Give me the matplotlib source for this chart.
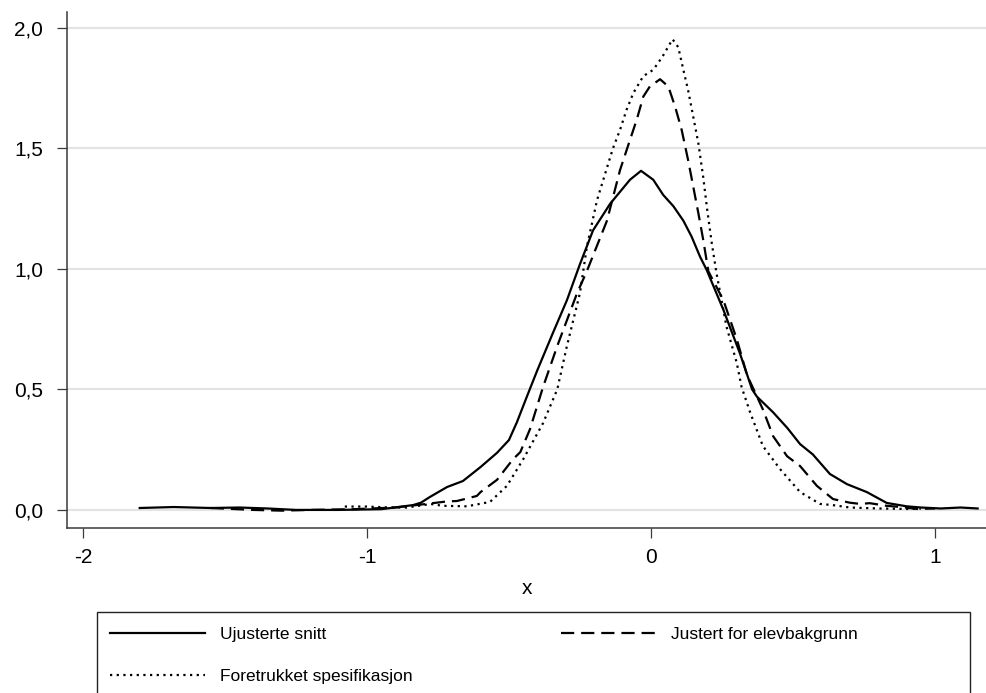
import numpy as np
import matplotlib
matplotlib.use("Agg")
import matplotlib.pyplot as plt
from matplotlib.patches import Rectangle
from matplotlib.ticker import FuncFormatter

plt.rcParams["font.family"] = ["Liberation Sans", "DejaVu Sans"]
plt.rcParams["lines.scale_dashes"] = False

# kernel density curves
x_ujust = [-1.80, -1.68, -1.55, -1.45, -1.35, -1.25, -1.10, -0.95, -0.89, -0.838, -0.81, -0.778,
           -0.718, -0.662, -0.60, -0.542, -0.50, -0.472, -0.437, -0.40, -0.345, -0.296, -0.25,
           -0.204, -0.144, -0.109, -0.074, -0.035, 0.008, 0.043, 0.079, 0.114, 0.143, 0.173,
           0.196, 0.255, 0.313, 0.356, 0.373, 0.43, 0.48, 0.525, 0.57, 0.63, 0.69, 0.76, 0.83,
           0.90, 0.95, 1.02, 1.09, 1.15]
y_ujust = [0.008, 0.012, 0.008, 0.010, 0.006, 0.0, 0.0, 0.003, 0.012, 0.02, 0.03, 0.054,
           0.095, 0.12, 0.178, 0.237, 0.29, 0.364, 0.47, 0.58, 0.735, 0.87, 1.02,
           1.16, 1.27, 1.32, 1.37, 1.407, 1.37, 1.307, 1.26, 1.20, 1.134, 1.05,
           0.996, 0.83, 0.65, 0.50, 0.47, 0.405, 0.34, 0.273, 0.23, 0.149, 0.107, 0.074, 0.029,
           0.015, 0.010, 0.006, 0.010, 0.006]

x_justert = [-1.55, -1.40, -1.30, -1.20, -1.05, -0.90, -0.79, -0.72, -0.683, -0.613, -0.60,
             -0.542, -0.486, -0.46, -0.426, -0.38, -0.33, -0.26, -0.226, -0.155, -0.109,
             -0.074, -0.05, -0.027, -0.004, 0.032, 0.061, 0.085, 0.108, 0.131, 0.149, 0.167,
             0.184, 0.202, 0.255, 0.303, 0.338, 0.394, 0.43, 0.479, 0.525, 0.584, 0.641, 0.70,
             0.736, 0.77, 0.83, 0.88, 0.937, 1.00]
y_justert = [0.008, 0.0, -0.003, 0.0, 0.003, 0.010, 0.025, 0.035, 0.037, 0.058, 0.074,
             0.125, 0.21, 0.24, 0.335, 0.51, 0.68, 0.90, 0.99, 1.20, 1.41,
             1.535, 1.62, 1.715, 1.757, 1.787, 1.757, 1.673, 1.577, 1.45, 1.34, 1.23,
             1.12, 0.99, 0.87, 0.705, 0.56, 0.417, 0.306, 0.223, 0.182, 0.10, 0.045, 0.030,
             0.025, 0.028, 0.017, 0.012, 0.004, 0.006]

x_foretr = [-1.078, -1.00, -0.92, -0.86, -0.80, -0.778, -0.732, -0.648, -0.567, -0.507, -0.45,
            -0.38, -0.33, -0.296, -0.25, -0.226, -0.19, -0.134, -0.109, -0.086, -0.062, -0.027,
            0.008, 0.04, 0.076, 0.096, 0.114, 0.131, 0.149, 0.167, 0.184, 0.198, 0.214, 0.231,
            0.266, 0.302, 0.319, 0.349, 0.394, 0.454, 0.525, 0.595, 0.64, 0.70, 0.80, 0.90, 0.95]
y_foretr = [0.014, 0.014, 0.010, 0.010, 0.020, 0.025, 0.017, 0.015, 0.033, 0.10, 0.21,
            0.36, 0.50, 0.68, 0.90, 1.09, 1.285, 1.50, 1.577, 1.66, 1.73, 1.80,
            1.826, 1.88, 1.953, 1.92, 1.826, 1.74, 1.63, 1.52, 1.38, 1.245, 1.107, 0.98,
            0.76, 0.61, 0.51, 0.405, 0.265, 0.17, 0.074, 0.025, 0.02, 0.010, 0.006, 0.004, 0.005]

labels = ["Ujusterte snitt", "Justert for elevbakgrunn", "Foretrukket spesifikasjon"]
x_ticks = [-2, -1, 0, 1]
y_ticks = [0, 0.5, 1.0, 1.5, 2.0]

W, H = 987, 693
fig = plt.figure(figsize=(W/100, H/100), dpi=100)
ax = fig.add_axes([67/W, 1-528/H, (W-67)/W, (528-12)/H])

lw = 1.6
l1, = ax.plot(x_ujust, y_ujust, color="black", lw=lw, ls="-")
l2, = ax.plot(x_justert, y_justert, color="black", lw=lw, ls=(0, (9.5, 5.0)))
l3, = ax.plot(x_foretr, y_foretr, color="black", lw=lw, ls=(0, (1.6, 3.2)))

ax.set_xlim(-2.056, 1.183)
ax.set_ylim(-0.075, 2.066)
ax.set_xticks(x_ticks)
ax.set_yticks(y_ticks)
ax.yaxis.set_major_formatter(FuncFormatter(lambda v, p: ("%.1f" % v).replace(".", ",")))
ax.xaxis.set_major_formatter(FuncFormatter(lambda v, p: "%d" % v))
ax.grid(axis="y", color="#e3e3e3", lw=1.5)
ax.set_axisbelow(True)
for s in ["top", "right"]:
    ax.spines[s].set_visible(False)
for s in ["left", "bottom"]:
    ax.spines[s].set_color("#3a3a3a")
    ax.spines[s].set_linewidth(1.1)
ax.tick_params(axis="both", length=7.2, width=0.9, color="#3a3a3a", labelsize=15)
ax.tick_params(axis="y", pad=10)
ax.tick_params(axis="x", pad=7)
ax.set_xlabel("x", fontsize=15, labelpad=9)

# legend box runs off the bottom of the figure
fig.patches.append(Rectangle((97/W, -0.05), (970-97)/W, (693-612)/H + 0.05,
                             transform=fig.transFigure, fill=False,
                             edgecolor="#222222", lw=1.0))
fig.legend([l1, l3, l2], [labels[0], labels[2], labels[1]], ncol=2, frameon=False,
           loc="upper left", bbox_to_anchor=(110/W, 1-627/H), borderpad=0,
           fontsize=12.5, handlelength=5.45, handletextpad=0.86, labelspacing=1.52,
           columnspacing=8.6, borderaxespad=0)

fig.savefig("out.png", dpi=100)
